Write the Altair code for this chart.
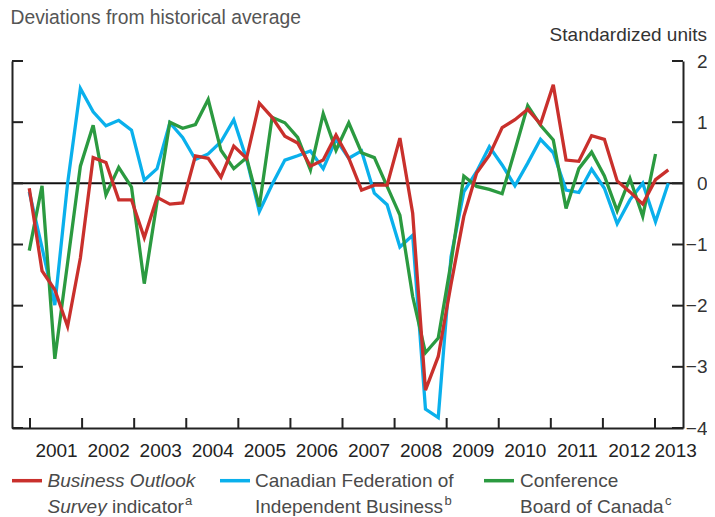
import altair as alt
import pandas as pd

# ---------------- data ----------------
quarter_index = list(range(51))  # quarterly observations, first at start of 2001

bos = [-0.08, -1.43, -1.74, -2.34, -1.22, 0.42, 0.34, -0.27, -0.27, -0.89,
       -0.23, -0.34, -0.32, 0.45, 0.41, 0.10, 0.61, 0.41, 1.31, 1.08,
       0.77, 0.66, 0.28, 0.38, 0.79, 0.41, -0.11, -0.03, -0.03, 0.74,
       -0.49, -3.38, -2.83, -1.65, -0.54, 0.17, 0.46, 0.91, 1.04, 1.21,
       0.97, 1.61, 0.38, 0.36, 0.78, 0.72, 0.04, -0.14, -0.34, 0.06, 0.22]

cfib = [-0.14, -1.05, -1.99, 0.00, 1.55, 1.17, 0.94, 1.03, 0.87, 0.05,
        0.24, 0.99, 0.75, 0.39, 0.48, 0.68, 1.04, 0.40, -0.46, -0.02,
        0.38, 0.45, 0.53, 0.24, 0.72, 0.41, 0.53, -0.16, -0.35, -1.04,
        -0.85, -3.69, -3.83, -1.20, -0.14, 0.19, 0.60, 0.30, -0.04, 0.33,
        0.72, 0.50, -0.11, -0.15, 0.23, -0.08, -0.66, -0.27, 0.00, -0.63, 0.00]

cboc = [-1.10, -0.04, -2.87, -1.30, 0.28, 0.95, -0.19, 0.26, -0.06, -1.64,
        -0.30, 1.00, 0.90, 0.96, 1.37, 0.54, 0.24, 0.42, -0.38, 1.08,
        0.99, 0.75, 0.22, 1.14, 0.54, 0.99, 0.50, 0.42, -0.05, -0.52,
        -1.85, -2.77, -2.53, -1.30, 0.12, -0.05, -0.10, -0.17, 0.54, 1.27,
        0.95, 0.71, -0.41, 0.24, 0.51, 0.12, -0.45, 0.08, -0.54, 0.48]

series_colors = ["#c9302c", "#0ab0ec", "#2b9a40"]  # BOS, CFIB, CBoC
y_tick_values = [-4, -3, -2, -1, 0, 1, 2]
years = list(range(2001, 2014))

title_text = ["Deviations from historical average"]
units_text = ["Standardized units"]

# ---------------- layout ----------------
W, H = 671, 367
FONT = "Liberation Sans"
FS = 19
TXT = "#4a4a4a"

x_idx = alt.Scale(domain=[-1.35, 51.15], nice=False, zero=False)
y_sc = alt.Scale(domain=[-4, 2], nice=False, zero=False)
yr_sc = alt.Scale(domain=[2000.654, 2013.538], nice=False, zero=False)

year_label_pos = [min(y + 0.5, 2013.538 - 0.15) for y in years]


def line_layer(values, color):
    df = pd.DataFrame({"q": quarter_index[:len(values)], "v": values})
    return alt.Chart(df).mark_line(
        color=color, strokeWidth=3.3, strokeJoin="miter", strokeCap="butt"
    ).encode(
        x=alt.X("q:Q", scale=x_idx, axis=None),
        y=alt.Y("v:Q", scale=y_sc, axis=None),
    )


def text_layer(s, x, y, align="left", size=FS, color=TXT, style="normal", baseline="alphabetic"):
    return alt.Chart(pd.DataFrame({"t": [s]})).mark_text(
        align=align, baseline=baseline, font=FONT, fontSize=size,
        fontStyle=style, color=color
    ).encode(text="t:N", x=alt.value(x), y=alt.value(y))


ticks_df = pd.DataFrame({"t": y_tick_values})

# left axis (domain only) + inward ticks
left_ticks = alt.Chart(ticks_df).mark_rule(color="#222", strokeWidth=2).encode(
    y=alt.Y("t:Q", scale=y_sc, axis=alt.Axis(
        orient="left", labels=False, ticks=False, tickSize=0, grid=False, title=None,
        domain=True, domainColor="#222", domainWidth=2)),
    x=alt.value(0), x2=alt.value(11),
)

# right axis with labels + inward ticks
right_ticks = alt.Chart(ticks_df).mark_rule(color="#222", strokeWidth=2).encode(
    y=alt.Y("t:Q", scale=y_sc, axis=alt.Axis(
        orient="right", labels=True, ticks=False, tickSize=0, grid=False, title=None,
        domain=True, domainColor="#222", domainWidth=2, values=y_tick_values,
        labelAlign="right", labelBaseline="middle", labelPadding=24,
        labelFont=FONT, labelFontSize=FS, labelColor="#333", labelFlush=False,
        labelOverlap=False)),
    x=alt.value(W - 11), x2=alt.value(W),
)

# bottom axis (year scale) + inward year ticks
year_ticks = alt.Chart(pd.DataFrame({"yr": years})).mark_rule(color="#222", strokeWidth=2).encode(
    x=alt.X("yr:Q", scale=yr_sc, axis=alt.Axis(
        orient="bottom", values=year_label_pos, labelExpr="format(floor(datum.value), 'd')",
        ticks=False, tickSize=0, grid=False, title=None, domain=True,
        domainColor="#222", domainWidth=2, labelPadding=28, labelBaseline="alphabetic",
        labelAlign="center", labelFont=FONT, labelFontSize=FS, labelColor="#222",
        labelFlush=False, labelOverlap=False)),
    y=alt.value(H - 10), y2=alt.value(H),
)

zero_line = alt.Chart(pd.DataFrame({"z": [0]})).mark_rule(color="#111", strokeWidth=2).encode(
    y=alt.Y("z:Q", scale=y_sc, axis=None),
    x=alt.value(0), x2=alt.value(W),
)

# legend swatches
swatches = [
    alt.Chart(pd.DataFrame({"k": [i]})).mark_rule(color=c, strokeWidth=3.5, strokeCap="butt").encode(
        x=alt.value(x0), x2=alt.value(x0 + 30), y=alt.value(419.7))
    for i, (c, x0) in enumerate(zip(series_colors, [0, 208, 472]))
]

L1, L2 = 426.3, 452.3
legend_texts = [
    text_layer("Business Outlook", 35.5, L1, style="italic"),
    text_layer("Survey", 35.5, L2, style="italic"),
    text_layer("indicator", 100, L2),
    text_layer("a", 173, L2 - 8, size=13),
    text_layer("Canadian Federation of", 243, L1),
    text_layer("Independent Business", 243, L2),
    text_layer("b", 432.5, L2 - 8, size=13),
    text_layer("Conference", 508, L1),
    text_layer("Board of Canada", 508, L2),
    text_layer("c", 653, L2 - 8, size=13),
]

title = text_layer(title_text[0], -1.5, -37.5, size=19.3, color="#555")
units = text_layer(units_text[0], 695, -20, align="right", color="#333")

chart = alt.layer(
    zero_line,
    left_ticks,
    right_ticks,
    year_ticks,
    line_layer(cfib, series_colors[1]),
    line_layer(cboc, series_colors[2]),
    line_layer(bos, series_colors[0]),
    *swatches,
    *legend_texts,
    title,
    units,
).resolve_scale(x="independent", y="independent").properties(
    width=W, height=H,
    autosize=alt.AutoSizeParams(type="none"),
    padding={"left": 4, "top": 53, "right": 24, "bottom": 88},
).configure_view(stroke=None).configure_axis(grid=False)

chart.save("out.html", embed_options={"renderer": "svg", "actions": False})
